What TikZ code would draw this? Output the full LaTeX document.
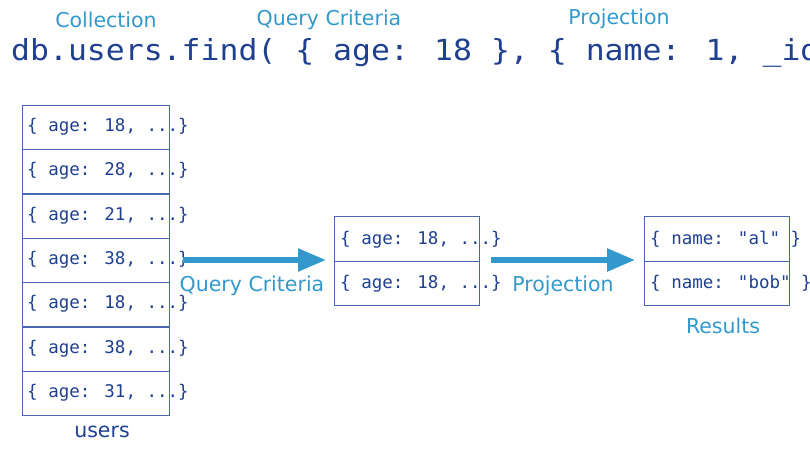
\documentclass[tikz,border=0pt]{standalone}
\usepackage{fontspec}
\setmainfont{DejaVu Sans}
\newfontfamily\boxmono{DejaVu Sans Mono}
\newfontfamily\codebig[FakeStretch=1.085]{DejaVu Sans Mono}
\usetikzlibrary{arrows.meta}
\definecolor{darkblue}{HTML}{1F3F8F}
\definecolor{boxline}{HTML}{4A66AE}
\definecolor{lightblue}{HTML}{3399CC}
\tikzset{
  docrow/.style={draw=boxline, line width=0.9pt, minimum width=147pt, minimum height=44pt, inner sep=0pt, anchor=north west},
  doctext/.style={anchor=base west, inner sep=0pt, text=darkblue, font=\boxmono\fontsize{17.5pt}{20pt}\selectfont},
  label/.style={anchor=base, inner sep=0pt, text=lightblue, font=\fontsize{20.5pt}{24pt}\selectfont},
  darklabel/.style={anchor=base, inner sep=0pt, text=darkblue, font=\fontsize{20.5pt}{24pt}\selectfont},
  flow/.style={draw=lightblue, line width=5.5pt, -{Triangle[length=28pt,width=22pt]}}
}
\begin{document}
\begin{tikzpicture}[x=1pt,y=-1pt]
\useasboundingbox (0,0) rectangle (810,450);
\clip (0,0) rectangle (810,450);
% top labels
\node[label] (lcoll) at (106,27) {Collection};
\node[label] (lqc) at (329,25) {Query Criteria};
\node[label] (lproj) at (619,24) {Projection};
\node[anchor=base west, inner sep=0pt, text=darkblue, font=\codebig\fontsize{29pt}{32pt}\selectfont] (code) at (11,60) {db.users.find( \{ age: 18 \}, \{ name: 1, \_id: 0 \} )};
% collection
\foreach \i/\a/\t in {0/18/105,1/28/149.3,2/21/193.6,3/38/237.9,4/18/282.2,5/38/326.5,6/31/370.8}{
  \node[docrow] (u\i) at (22,\t) {};
  \node[doctext] (ut\i) at (27,\t+26.5) {\{ age: \a, ...\}};
}
\node[darklabel] (users) at (102,437) {users};
% middle
\node[docrow, minimum width=145pt, minimum height=44.5pt] (m0) at (334,216) {};
\node[docrow, minimum width=145pt, minimum height=44.5pt] (m1) at (334,260.5) {};
\node[doctext] (mt0) at (340,244) {\{ age: 18, ...\}};
\node[doctext] (mt1) at (340,288) {\{ age: 18, ...\}};
% results
\node[docrow, minimum width=145pt, minimum height=44.5pt] (r0) at (644,216) {};
\node[docrow, minimum width=145pt, minimum height=44.5pt] (r1) at (644,260.5) {};
\node[doctext] (rt0) at (650,244) {\{ name: "al" \}};
\node[doctext] (rt1) at (650,288) {\{ name: "bob" \}};
\node[label] (results) at (723,333) {Results};
% arrows
\coordinate (a1s) at (183,260);
\coordinate (a1e) at (326,260);
\coordinate (a2s) at (491,260);
\coordinate (a2e) at (635,260);
\draw[flow] (a1s) -- (a1e);
\draw[flow] (a2s) -- (a2e);
\node[label] (lqc2) at (252,291) {Query Criteria};
\node[label] (lproj2) at (563,291) {Projection};
\end{tikzpicture}
\end{document}
